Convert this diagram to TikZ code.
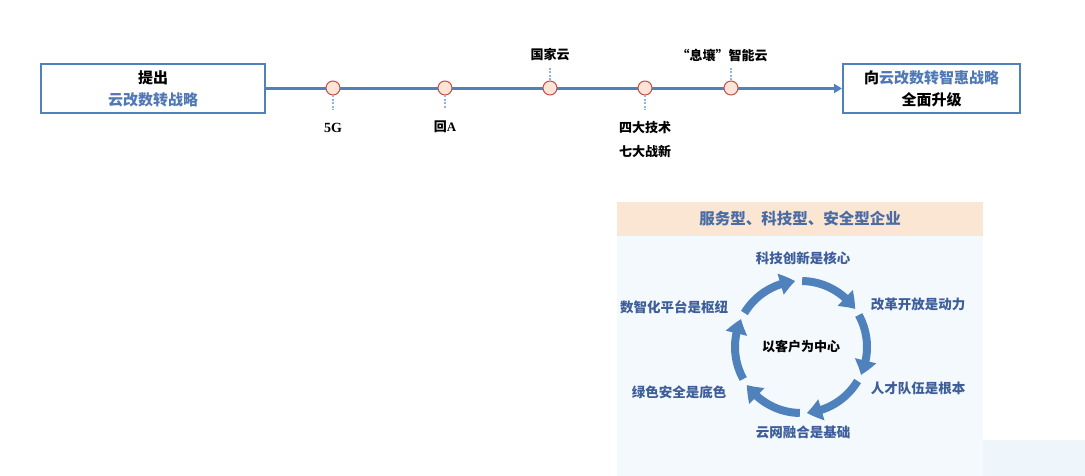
\documentclass[tikz,border=0pt]{standalone}
\usepackage{fontspec}
\setmainfont{Noto Sans CJK SC}
\newfontfamily\latinserif{Liberation Serif}
\usetikzlibrary{arrows.meta,bending}
\definecolor{lineblue}{HTML}{4F81BD}
\definecolor{txtblue}{HTML}{4F78B5}
\definecolor{lblblue}{HTML}{3D5E9A}
\definecolor{hdrblue}{HTML}{4A6CA3}
\definecolor{dotfill}{HTML}{FCE4D6}
\definecolor{dotred}{HTML}{C0504D}
\definecolor{dashblue}{HTML}{8EB4E3}
\definecolor{hdrfill}{HTML}{FBE6D4}
\definecolor{panelfill}{HTML}{F4F9FD}
\definecolor{decofill}{HTML}{EEF6FB}
\tikzset{
  mainbox/.style={draw=lineblue, line width=2pt, rectangle, inner sep=0pt, align=center, font=\fontsize{15}{22}\selectfont\bfseries},
  dot/.style={circle, draw=dotred, fill=dotfill, line width=1pt, minimum size=14pt, inner sep=0pt},
  tick/.style={draw=dashblue, line width=1.2pt, dash pattern=on 2pt off 1.5pt},
  tlabel/.style={font=\fontsize{13}{24}\selectfont\bfseries, text=black, align=center, inner sep=0pt},
  clabel/.style={font=\fontsize{13.5}{16}\selectfont\bfseries, text=lblblue, inner sep=0pt},
  cyc/.style={draw=lineblue, line width=8pt, -{Triangle[width=21pt,length=15pt,bend]}},
}
\begin{document}
\begin{tikzpicture}[x=1pt,y=-1pt]
\useasboundingbox (0,0) rectangle (1085,476);
% panel
\fill[decofill] (960,440) rectangle (1085,476);
\fill[panelfill] (617,236) rectangle (983,476);
\fill[hdrfill] (617,202) rectangle (983,236);
\node[font=\fontsize{15.5}{18}\selectfont\bfseries, text=hdrblue, inner sep=0pt] (hdr) at (800,219) {服务型、科技型、安全型企业};
% timeline boxes
\node[mainbox, minimum width=224pt, minimum height=49pt] (lbox) at (153,88.5) {提出\\\textcolor{txtblue}{云改数转战略}};
\node[mainbox, minimum width=177pt, minimum height=49pt] (rbox) at (931.5,88.5) {向\textcolor{txtblue}{云改数转智惠战略}\\全面升级};
\draw[lineblue, line width=3pt, -{Triangle[width=9pt,length=8pt]}] (lbox.east) -- (rbox.west);
% dots
\node[dot] (d1) at (333,88) {};
\node[dot] (d2) at (445,88) {};
\node[dot] (d3) at (550,88) {};
\node[dot] (d4) at (645,88) {};
\node[dot] (d5) at (731,88) {};
\coordinate (e1) at (333,110);
\coordinate (e2) at (445,108);
\coordinate (e3) at (550,68);
\coordinate (e4) at (645,110);
\coordinate (e5) at (731,68);
\draw[tick] (d1.south) -- (e1);
\draw[tick] (d2.south) -- (e2);
\draw[tick] (d3.north) -- (e3);
\draw[tick] (d4.south) -- (e4);
\draw[tick] (d5.north) -- (e5);
\node[tlabel, font=\fontsize{14}{16}\selectfont\latinserif\bfseries] (l1) at (333,128) {5G};
\node[tlabel] (l2) at (445,127) {回{\latinserif A}};
\node[tlabel] (l3) at (550,55) {国家云};
\node[tlabel] (l4) at (645,140) {四大技术\\七大战新};
\node[tlabel] (l5) at (722,55) {“息壤”智能云};
% cycle
\coordinate (cc) at (801,347);
\foreach \s in {89,29,-31,-91,-151,-211}{
  \draw[cyc] (cc) ++(\s:66pt) arc[start angle=\s, end angle=\s-54, radius=66pt];
}
\node[font=\fontsize{13}{16}\selectfont\bfseries, inner sep=0pt] (center) at (cc) {以客户为中心};
\node[clabel] (c1) at (803,258) {科技创新是核心};
\node[clabel] (c2) at (918,304) {改革开放是动力};
\node[clabel] (c3) at (918,388) {人才队伍是根本};
\node[clabel] (c4) at (803,432) {云网融合是基础};
\node[clabel] (c5) at (679,392) {绿色安全是底色};
\node[clabel] (c6) at (674,307) {数智化平台是枢纽};
\end{tikzpicture}
\end{document}
